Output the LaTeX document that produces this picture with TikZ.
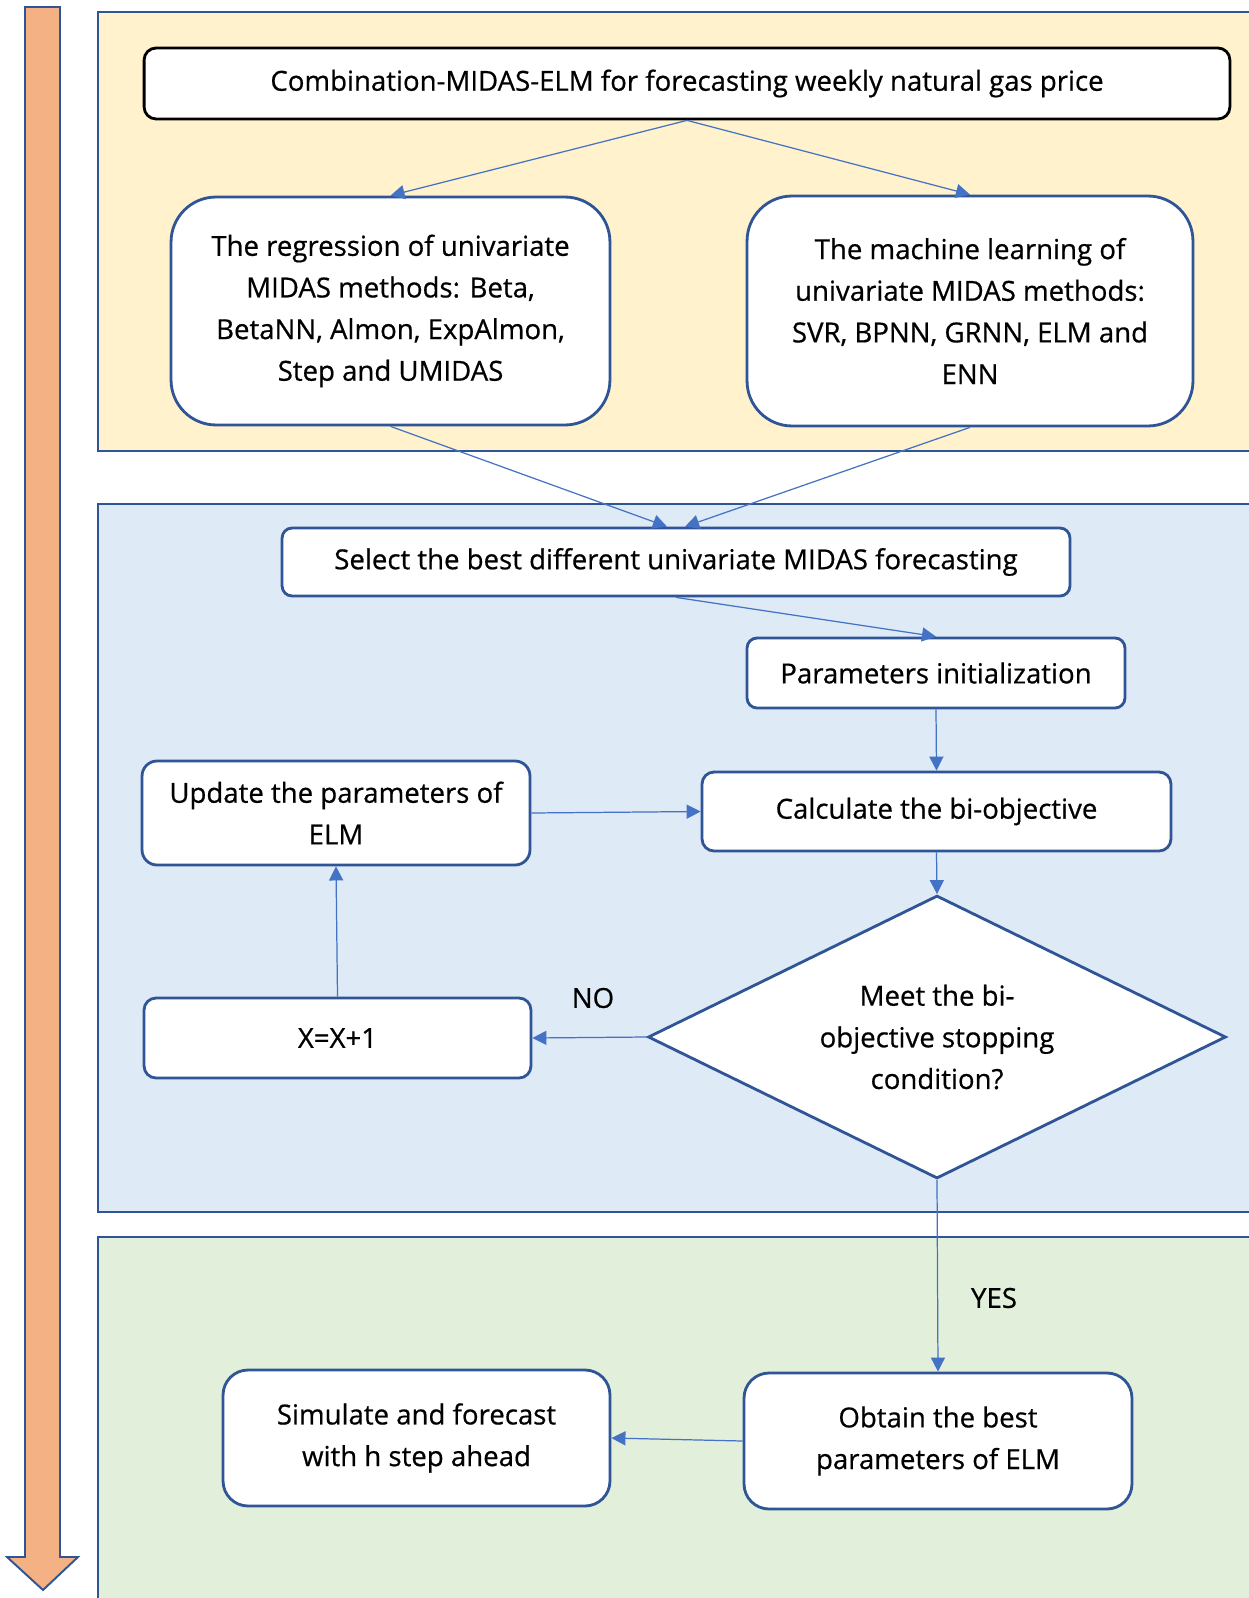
\documentclass[tikz,border=0pt]{standalone}
\usepackage{fontspec}
\setmainfont{Open Sans}[FakeBold=0.6]
\usepackage{tikz}
\usetikzlibrary{shapes}
\usetikzlibrary{arrows.meta}
\definecolor{edgeblue}{HTML}{2F5597}
\definecolor{linkblue}{HTML}{4472C4}
\definecolor{panelyellow}{HTML}{FFF2CC}
\definecolor{panelblue}{HTML}{DEEAF6}
\definecolor{panelgreen}{HTML}{E2EFDA}
\definecolor{arroworange}{HTML}{F4B183}
\tikzset{
  flownode/.style = {align=center, inner sep=0pt, text centered,
    font=\fontsize{15.7}{23.7}\selectfont, fill=white},
  box_node/.style = {flownode, rectangle, draw=edgeblue, line width=1.6pt},% boite bleue
  title_node/.style = {flownode, rectangle, draw=black, line width=1.6pt,
    rounded corners=0.24cm},% boite titre
  cond_node/.style = {flownode, diamond, aspect=2.04, draw=edgeblue, line width=1.6pt},% losange
  panel/.style = {draw=edgeblue, line width=1.2pt},% bande de fond
  link/.style = {draw=linkblue, line width=0.7pt,
    -{Triangle[length=8pt,width=8pt]}},
  tag/.style = {font=\fontsize{15.7}{19}\selectfont}
}
\begin{document}
\begin{tikzpicture}[x=0.02cm, y=-0.02cm]
    \useasboundingbox (0,0) rectangle (1248,1598);
    % bandes
    \path[panel, fill=panelyellow] (98,12) rectangle (1262,451);
    \path[panel, fill=panelblue] (98,504) rectangle (1262,1212);
    \path[panel, fill=panelgreen] (98,1237) rectangle (1262,1612);
    % fleche de gauche
    \path[draw=edgeblue, line width=1.1pt, fill=arroworange]
      (25,7) -- (60,7) -- (60,1557) -- (78,1557) -- (43,1590)
      -- (7,1557) -- (25,1557) -- cycle;

    \node [title_node, minimum width=21.72cm, minimum height=1.42cm] (title) at (687,83.5)
      {Combination-MIDAS-ELM for forecasting weekly natural gas price};
    \node [box_node, rounded corners=0.9cm, minimum width=8.78cm, minimum height=4.56cm] (reg) at (390.5,311)
      {The regression of univariate\\MIDAS methods: Beta,\\BetaNN, Almon, ExpAlmon,\\Step and UMIDAS};
    \node [box_node, rounded corners=0.9cm, minimum width=8.92cm, minimum height=4.6cm] (ml) at (970,311)
      {The machine learning of\\univariate MIDAS methods:\\SVR, BPNN, GRNN, ELM and\\ENN};
    \node [box_node, rounded corners=0.2cm, minimum width=15.76cm, minimum height=1.36cm] (best) at (676,562)
      {Select the best different univariate MIDAS forecasting};
    \node [box_node, rounded corners=0.2cm, minimum width=7.56cm, minimum height=1.4cm] (init) at (936,673)
      {Parameters initialization};
    \node [box_node, rounded corners=0.24cm, minimum width=9.38cm, minimum height=1.58cm] (calc) at (936.5,811.5)
      {Calculate the bi-objective};
    \node [box_node, rounded corners=0.3cm, minimum width=7.76cm, minimum height=2.08cm] (upd) at (336,813)
      {Update the parameters of\\ELM};
    \node [cond_node, minimum width=11.56cm, minimum height=5.66cm] (stop) at (937,1037)
      {Meet the bi-\\objective stopping\\condition?};
    \node [box_node, rounded corners=0.24cm, minimum width=7.74cm, minimum height=1.6cm] (incr) at (337.5,1038)
      {X=X+1};
    \node [box_node, rounded corners=0.5cm, minimum width=7.76cm, minimum height=2.72cm] (obt) at (938,1441)
      {Obtain the best\\parameters of ELM};
    \node [box_node, rounded corners=0.5cm, minimum width=7.74cm, minimum height=2.72cm] (sim) at (416.5,1438)
      {Simulate and forecast\\with h step ahead};

    \node [tag] (no) at (593,998) {NO};
    \node [tag] (yes) at (994,1298) {YES};

    \draw [link] (title.south) -- (reg.north);
    \draw [link] (title.south) -- (ml.north);
    \draw [link] (reg.south) -- ([xshift=-0.18cm]best.north);
    \draw [link] (ml.south) -- ([xshift=0.18cm]best.north);
    \draw [link] (best.south) -- (init.north);
    \draw [link] (init.south) -- (calc.north);
    \draw [link] (calc.south) -- (stop.north);
    \draw [link] (upd.east) -- (calc.west);
    \draw [link] (stop.west) -- (incr.east);
    \draw [link] (incr.north) -- (upd.south);
    \draw [link] (stop.south) -- (obt.north);
    \draw [link] (obt.west) -- (sim.east);
\end{tikzpicture}
\end{document}
